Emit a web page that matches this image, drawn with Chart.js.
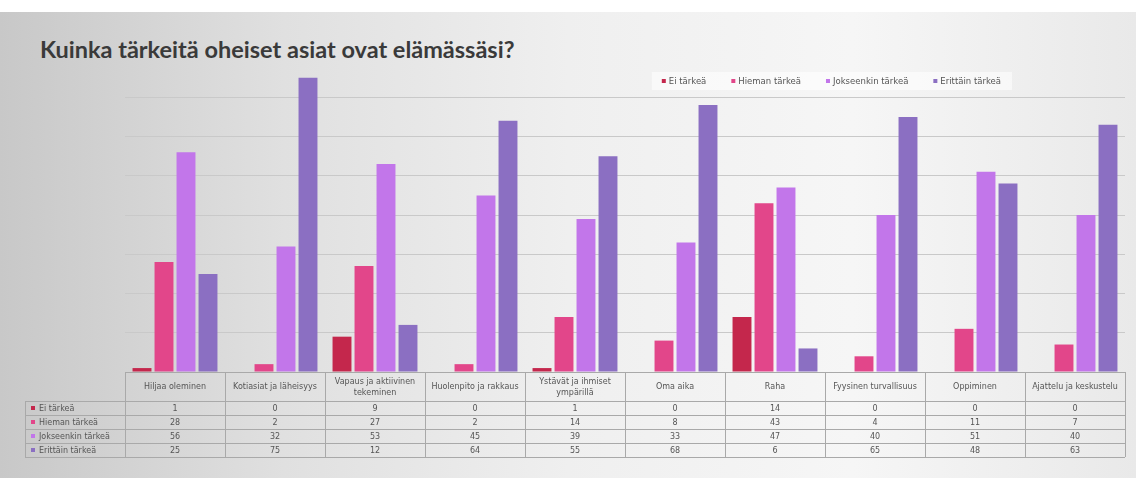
<!DOCTYPE html>
<html>
<head>
<meta charset="utf-8">
<script src="https://cdn.jsdelivr.net/npm/chart.js@4"></script>
<style>
  html, body { margin: 0; padding: 0; background: #fff; }
  #slide {
    position: absolute; left: 0; top: 12px; width: 1136px; height: 466px;
    background: linear-gradient(to right, #c8c8c8 0%, #e0e0e0 25%, #efefef 50%, #f6f6f6 75%, #e9e9e9 100%);
  }
  #title {
    position: absolute; left: 40px; top: 35px;
    font-family: Lato, "Open Sans", sans-serif; font-weight: bold; font-size: 23.5px; color: #3a3a3a;
  }
  #wrap { position: absolute; left: 0; top: 0; width: 1136px; height: 499px; }
</style>
</head>
<body>
<div id="slide"></div>
<div id="title">Kuinka tärkeitä oheiset asiat ovat elämässäsi?</div>
<div id="wrap"><canvas id="chart"></canvas></div>
<script>
'use strict';

// kategoriat ja sarjat (luettu taulukosta)
const categories = [
  ['Hiljaa oleminen'],
  ['Kotiasiat ja läheisyys'],
  ['Vapaus ja aktiivinen', 'tekeminen'],
  ['Huolenpito ja rakkaus'],
  ['Ystävät ja ihmiset', 'ympärillä'],
  ['Oma aika'],
  ['Raha'],
  ['Fyysinen turvallisuus'],
  ['Oppiminen'],
  ['Ajattelu ja keskustelu']
];
const seriesNames = ['Ei tärkeä', 'Hieman tärkeä', 'Jokseenkin tärkeä', 'Erittäin tärkeä'];
const eiTarkea = [1, 0, 9, 0, 1, 0, 14, 0, 0, 0];
const hiemanTarkea = [28, 2, 27, 2, 14, 8, 43, 4, 11, 7];
const jokseenkinTarkea = [56, 32, 53, 45, 39, 33, 47, 40, 51, 40];
const erittainTarkea = [25, 75, 12, 64, 55, 68, 6, 65, 48, 63];
const colors = ['#c4274c', '#e2468a', '#c276ea', '#8b6fc2'];

const allSeries = [eiTarkea, hiemanTarkea, jokseenkinTarkea, erittainTarkea];

// taulukko kaavion alle
const tablePlugin = {
  id: 'dataTable',
  afterDraw(chart) {
    const ctx = chart.ctx;
    const x = chart.scales.x;
    const area = chart.chartArea;
    const colW = (area.right - area.left) / categories.length;
    const top = area.bottom;
    const headH = 29;
    const rowH = 14;
    const labelLeft = 25;
    ctx.save();
    ctx.strokeStyle = '#a9a9a9';
    ctx.lineWidth = 1;
    // pystyviivat
    for (let i = 0; i <= categories.length; i++) {
      const px = Math.round(area.left + i * colW) + 0.5;
      ctx.beginPath();
      ctx.moveTo(px, top);
      ctx.lineTo(px, top + headH + rowH * 4);
      ctx.stroke();
    }
    ctx.beginPath();
    ctx.moveTo(labelLeft + 0.5, top + headH);
    ctx.lineTo(labelLeft + 0.5, top + headH + rowH * 4);
    ctx.stroke();
    // vaakaviivat
    ctx.beginPath();
    ctx.moveTo(area.left, top + 0.5);
    ctx.lineTo(area.right, top + 0.5);
    ctx.stroke();
    for (let r = 0; r <= 4; r++) {
      const py = Math.round(top + headH + r * rowH) + 0.5;
      ctx.beginPath();
      ctx.moveTo(labelLeft, py);
      ctx.lineTo(area.right, py);
      ctx.stroke();
    }
    ctx.fillStyle = '#555';
    ctx.font = '8px "DejaVu Sans", sans-serif';
    ctx.textAlign = 'center';
    ctx.textBaseline = 'middle';
    for (let i = 0; i < categories.length; i++) {
      const cx = x.getPixelForValue(i);
      const lines = categories[i];
      if (lines.length === 1) {
        ctx.fillText(lines[0], cx, top + headH / 2);
      } else {
        ctx.fillText(lines[0], cx, top + headH / 2 - 5);
        ctx.fillText(lines[1], cx, top + headH / 2 + 6);
      }
      for (let r = 0; r < allSeries.length; r++) {
        ctx.fillText(String(allSeries[r][i]), cx, top + headH + r * rowH + rowH / 2 + 0.5);
      }
    }
    ctx.textAlign = 'left';
    for (let r = 0; r < seriesNames.length; r++) {
      const cy = top + headH + r * rowH + rowH / 2;
      ctx.fillStyle = colors[r];
      ctx.fillRect(labelLeft + 6, cy - 2, 4, 4);
      ctx.fillStyle = '#555';
      ctx.fillText(seriesNames[r], labelLeft + 14, cy + 0.5);
    }
    ctx.restore();
  }
};

// selite oikeaan yläkulmaan
const legendPlugin = {
  id: 'topLegend',
  afterDraw(chart) {
    const ctx = chart.ctx;
    ctx.save();
    ctx.font = '8.5px "DejaVu Sans", sans-serif';
    ctx.textBaseline = 'middle';
    const gap = 24;
    let w = 0;
    const widths = seriesNames.map(n => ctx.measureText(n).width);
    widths.forEach(v => { w += v + 8 + gap; });
    w -= gap;
    const right = 1002;
    let px = right - w;
    const cy = 81;
    ctx.fillStyle = 'rgba(255,255,255,0.55)';
    ctx.fillRect(px - 10, cy - 9, w + 20, 18);
    for (let i = 0; i < seriesNames.length; i++) {
      ctx.fillStyle = colors[i];
      ctx.fillRect(px, cy - 2, 4, 4);
      ctx.fillStyle = '#555';
      ctx.fillText(seriesNames[i], px + 7, cy + 0.5);
      px += widths[i] + 8 + gap;
    }
    ctx.restore();
  }
};

const datasets = seriesNames.map((name, i) => ({
  label: name,
  data: allSeries[i],
  backgroundColor: colors[i],
  borderWidth: 0,
  categoryPercentage: 0.88,
  barPercentage: 0.86
}));

new Chart(document.getElementById('chart'), {
  type: 'bar',
  data: {
    labels: categories.map(c => c.join(' ')),
    datasets: datasets
  },
  options: {
    responsive: true,
    maintainAspectRatio: false,
    animation: false,
    layout: { padding: { left: 125, right: 11, top: 58, bottom: 119 } },
    plugins: {
      legend: { display: false },
      tooltip: { enabled: false }
    },
    scales: {
      x: {
        ticks: { display: false },
        grid: { display: false },
        border: { display: false }
      },
      y: {
        min: 0,
        max: 80,
        ticks: { display: false, stepSize: 10 },
        grid: {
          color: (c) => (c.tick && (c.tick.value === 80 || c.tick.value === 0)) ? 'rgba(0,0,0,0)' : '#c9c9c9',
          drawTicks: false
        },
        border: { display: false }
      }
    }
  },
  plugins: [tablePlugin, legendPlugin]
});
</script>
</body>
</html>
